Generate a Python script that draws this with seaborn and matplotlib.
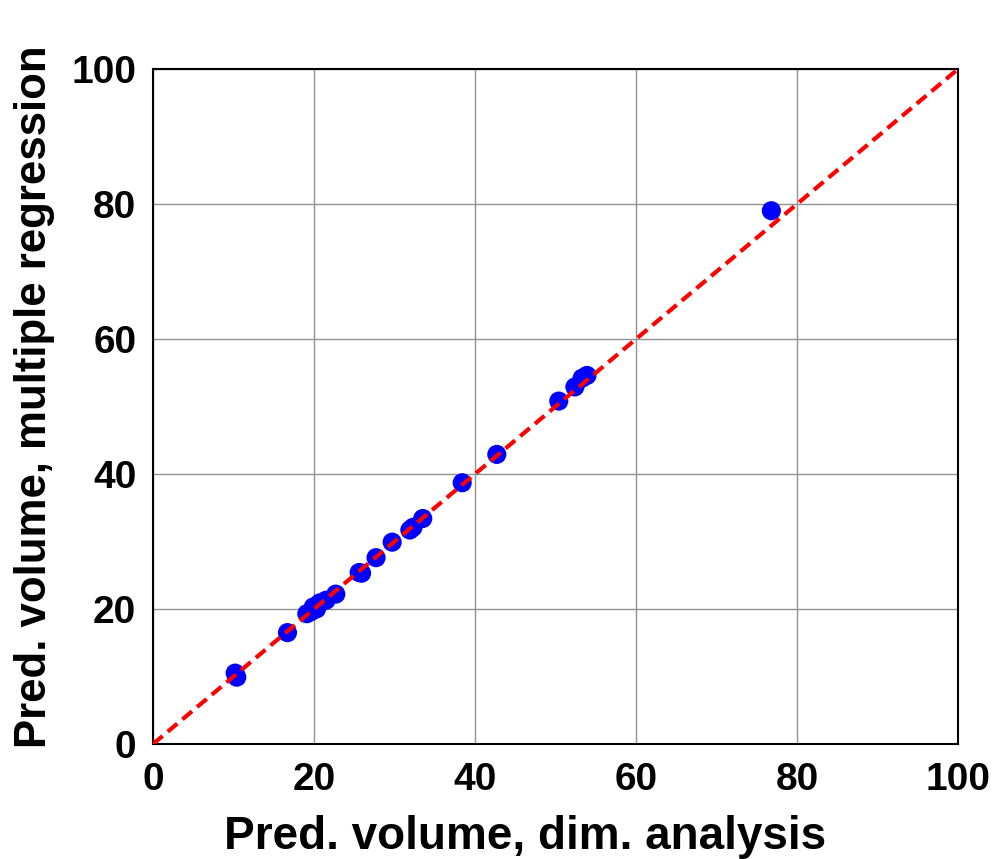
import matplotlib
matplotlib.use("Agg")
import matplotlib.pyplot as plt
import seaborn as sns
import pandas as pd

# Data
dim_analysis = [10.2, 10.4, 16.7, 19.1, 19.6, 19.9, 20.3, 20.7, 21.5, 22.7, 25.6, 25.9,
                27.7, 29.7, 31.9, 32.3, 33.5, 38.4, 42.7, 50.4, 52.4, 53.3, 53.9, 76.8]
multiple_regression = [10.5, 9.9, 16.5, 19.3, 19.6, 20.3, 20.0, 20.9, 21.3, 22.2, 25.4, 25.3,
                       27.6, 29.9, 31.7, 32.1, 33.4, 38.7, 42.9, 50.8, 52.9, 54.2, 54.6, 79.0]
line_x = [0, 100]
line_y = [0, 100]
ticks = [0, 20, 40, 60, 80, 100]

df = pd.DataFrame({"x": dim_analysis, "y": multiple_regression})
line_df = pd.DataFrame({"x": line_x, "y": line_y})

sns.set_style("white")
plt.rcParams['font.family'] = ['Liberation Sans', 'DejaVu Sans']
plt.rcParams['text.color'] = 'black'
plt.rcParams['axes.labelcolor'] = 'black'
plt.rcParams['xtick.color'] = 'black'
plt.rcParams['ytick.color'] = 'black'

fig = plt.figure(figsize=(9.97, 8.59), dpi=100)
ax = fig.add_axes([0.1535, 0.1339, 0.8075, 0.7858])

sns.scatterplot(data=df, x="x", y="y", ax=ax, color="#0000ff", s=190,
                edgecolor="none", zorder=3)
sns.lineplot(data=line_df, x="x", y="y", ax=ax, color="#ff0000", linewidth=3,
             linestyle=(0, (3, 1.6)), zorder=4)

ax.set_xlim(0, 100)
ax.set_ylim(0, 100)
ax.set_xticks(ticks)
ax.set_yticks(ticks)
ax.set_xticklabels([str(t) for t in ticks], fontsize=28, fontweight="bold")
ax.set_yticklabels([str(t) for t in ticks], fontsize=28, fontweight="bold")
ax.grid(True, color="#929292", linewidth=1.0, linestyle="-")
ax.set_axisbelow(True)
ax.tick_params(axis="x", direction="in", length=0, pad=13)
ax.tick_params(axis="y", direction="in", length=0, pad=12)
for sp in ax.spines.values():
    sp.set_color("black")
    sp.set_linewidth(1.5)
    sp.set_visible(True)

ax.set_xlabel("Pred. volume, dim. analysis", fontsize=33, fontweight="bold", labelpad=12)
ax.set_ylabel("Pred. volume, multiple regression", fontsize=31.5, fontweight="bold", labelpad=12)
ax.xaxis.label.set_x(0.462)
ax.yaxis.label.set_y(0.515)

fig.savefig("out.png", dpi=100)
